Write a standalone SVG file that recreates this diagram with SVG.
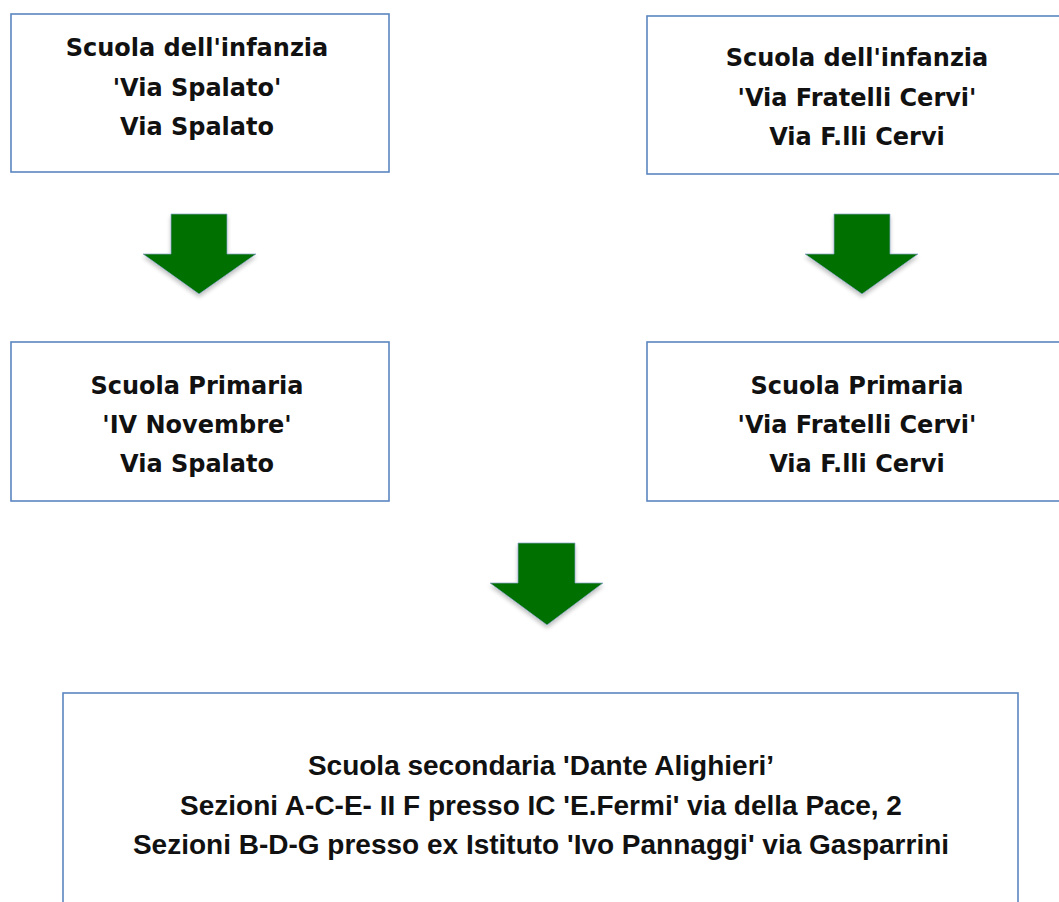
<svg xmlns="http://www.w3.org/2000/svg" width="1059" height="902" viewBox="0 0 1059 902">
<style>
.box{fill:#ffffff;stroke:#5b86c0;stroke-width:1.6}
.t{font-family:"DejaVu Sans","Liberation Sans",sans-serif;font-weight:bold;font-size:24px;fill:#111111;text-anchor:middle}
.tb{font-family:"Liberation Sans","DejaVu Sans",sans-serif;font-weight:bold;font-size:28px;fill:#111111;text-anchor:middle}
.arr{fill:#007000;stroke:#8aa6d0;stroke-width:1;stroke-opacity:0.7;filter:url(#sh)}
</style>
<defs>
<filter id="sh" x="-20%" y="-20%" width="140%" height="150%">
<feGaussianBlur in="SourceAlpha" stdDeviation="2"/>
<feOffset dy="3" result="b"/>
<feComponentTransfer><feFuncA type="linear" slope="0.25"/></feComponentTransfer>
<feMerge><feMergeNode/><feMergeNode in="SourceGraphic"/></feMerge>
</filter>
</defs>
<rect width="1059" height="902" fill="#ffffff"/>
<g id="infanzia-spalato">
<rect class="box" x="11" y="14" width="378" height="158"/>
<text class="t" x="197" y="56">Scuola dell'infanzia</text>
<text class="t" x="197" y="96">'Via Spalato'</text>
<text class="t" x="197" y="135">Via Spalato</text>
</g>
<g id="infanzia-cervi">
<rect class="box" x="647" y="16" width="430" height="158"/>
<text class="t" x="857" y="66">Scuola dell'infanzia</text>
<text class="t" x="857" y="106">'Via Fratelli Cervi'</text>
<text class="t" x="857" y="145">Via F.lli Cervi</text>
</g>
<g id="primaria-novembre">
<rect class="box" x="11" y="342" width="378" height="159"/>
<text class="t" x="197" y="394">Scuola Primaria</text>
<text class="t" x="197" y="433">'IV Novembre'</text>
<text class="t" x="197" y="472">Via Spalato</text>
</g>
<g id="primaria-cervi">
<rect class="box" x="647" y="342" width="430" height="159"/>
<text class="t" x="857" y="394">Scuola Primaria</text>
<text class="t" x="857" y="433">'Via Fratelli Cervi'</text>
<text class="t" x="857" y="472">Via F.lli Cervi</text>
</g>
<g id="secondaria">
<rect class="box" x="63" y="693" width="955" height="230"/>
<text class="tb" x="541" y="775">Scuola secondaria 'Dante Alighieri’</text>
<text class="tb" x="541" y="815">Sezioni A-C-E- II F presso IC 'E.Fermi' via della Pace, 2</text>
<text class="tb" x="541" y="854">Sezioni B-D-G presso ex Istituto 'Ivo Pannaggi' via Gasparrini</text>
</g>
<g id="connectors">
<polygon class="arr" points="171,214 227,214 227,254 256,254 199,294 143,254 171,254"/>
<polygon class="arr" points="834,214 890,214 890,254 918,254 862,294 805,254 834,254"/>
<polygon class="arr" points="518,543 575,543 575,583 603,583 547,625 490,583 518,583"/>
</g>
</svg>
